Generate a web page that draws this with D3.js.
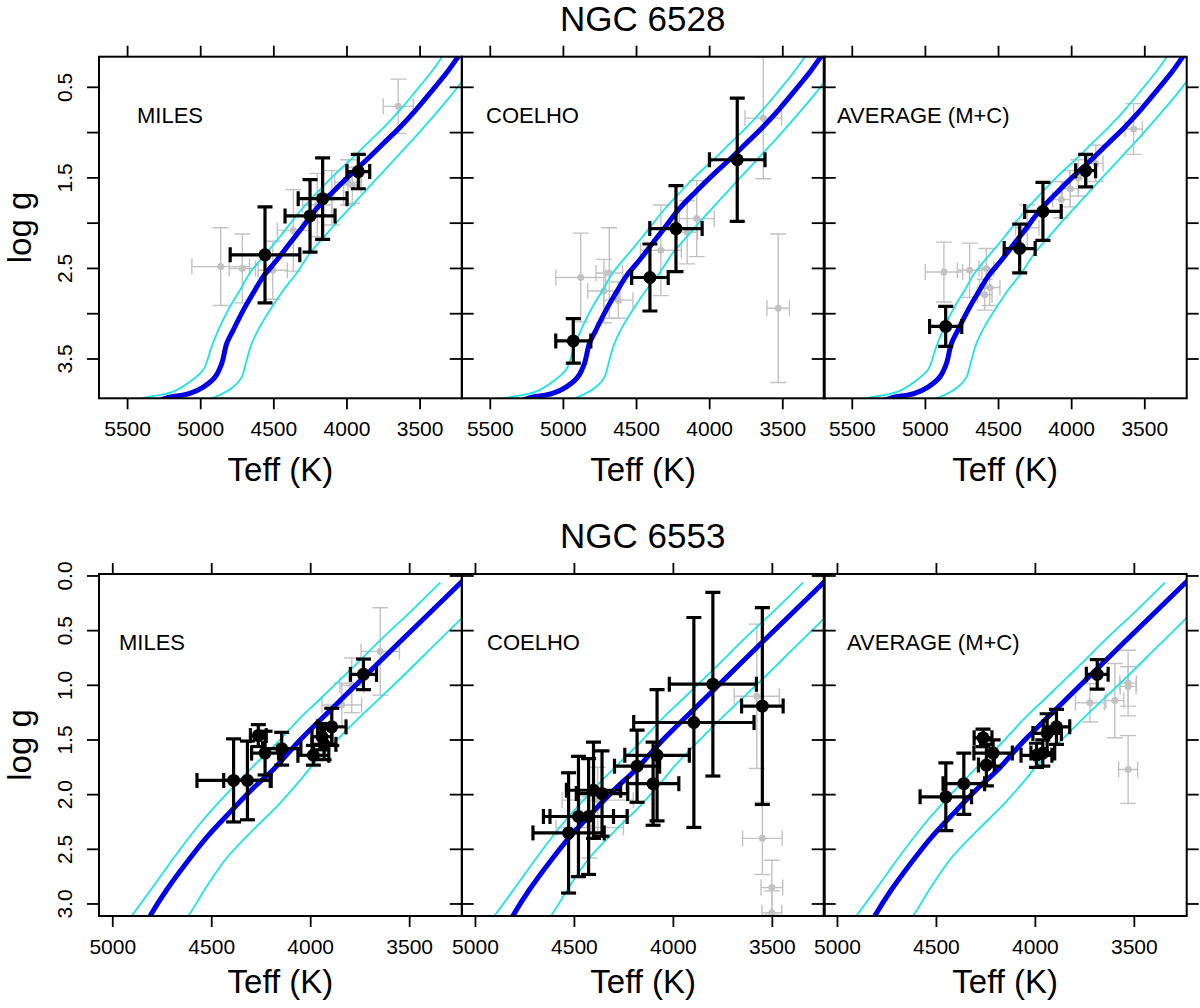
<!DOCTYPE html>
<html>
<head>
<meta charset="utf-8">
<script src="https://cdn.jsdelivr.net/npm/d3@7"></script>
<style>
body { margin: 0; background: #fff; }
svg { display: block; }
text { font-family: "Liberation Sans", Arial, Helvetica, sans-serif; fill: #000; }
</style>
</head>
<body>
<svg id="chart" width="1200" height="1008"></svg>
<script>
// cluster titles and panel names
var clusters = ["NGC 6528", "NGC 6553"];
var libraries = ["MILES", "COELHO", "AVERAGE (M+C)"];

// axis ranges and ticks
var teffRange6528 = [5692, 3210], loggRange6528 = [0.162, 3.934];
var teffRange6553 = [5067, 3233], loggRange6553 = [-0.018, 3.11];
var teffTicks6528 = [5500, 5000, 4500, 4000, 3500];
var loggTicks6528 = [0.5, 1, 1.5, 2, 2.5, 3, 3.5];
var loggLabels6528 = [0.5, 1.5, 2.5, 3.5];
var teffTicks6553 = [5000, 4500, 4000, 3500];
var loggTicks6553 = [0, 0.5, 1, 1.5, 2, 2.5, 3];
var loggLabels6553 = [0, 0.5, 1, 1.5, 2, 2.5, 3];

// isochrones [Teff, log g]: central, hot and cool envelopes
var iso6528 = [[5300,3.97],[5229,3.93],[5070,3.88],[4979,3.81],[4899,3.70],[4853,3.55],[4819,3.33],[4774,3.18],[4705,2.96],[4637,2.77],[4569,2.59],[4477,2.41],[4386,2.22],[4318,2.08],[4204,1.84],[4090,1.65],[3976,1.47],[3862,1.30],[3748,1.12],[3634,0.94],[3520,0.74],[3406,0.52],[3315,0.34],[3235,0.16],[3210,0.11]];
var iso6528Hot = [[5500,3.97],[5389,3.93],[5184,3.86],[5070,3.75],[4979,3.62],[4921,3.36],[4865,3.14],[4796,2.92],[4728,2.74],[4660,2.55],[4569,2.37],[4455,2.15],[4313,1.86],[4199,1.66],[4085,1.47],[3971,1.30],[3858,1.12],[3743,0.94],[3629,0.74],[3515,0.52],[3424,0.34],[3344,0.16]];
var iso6528Cool = [[5000,3.97],[4911,3.93],[4774,3.81],[4716,3.70],[4682,3.51],[4648,3.33],[4591,3.14],[4523,2.96],[4432,2.74],[4340,2.55],[4249,2.33],[4158,2.16],[4044,1.95],[3908,1.71],[3771,1.47],[3634,1.23],[3520,1.03],[3400,0.81],[3300,0.62],[3197,0.41]];
var iso6553 = [[4850,3.25],[4809,3.11],[4725,2.87],[4624,2.62],[4523,2.39],[4405,2.16],[4287,1.94],[4186,1.77],[4051,1.50],[3883,1.20],[3714,0.90],[3545,0.60],[3377,0.305],[3242,0.067],[3150,-0.10]];
var iso6553Hot = [[4960,3.25],[4902,3.11],[4793,2.84],[4674,2.54],[4540,2.23],[4405,1.96],[4287,1.74],[4169,1.53],[4051,1.30],[3967,1.155],[3798,0.86],[3630,0.56],[3495,0.33],[3343,0.06]];
var iso6553Cool = [[4680,3.25],[4616,3.11],[4523,2.84],[4422,2.58],[4287,2.32],[4169,2.11],[4051,1.87],[3992,1.74],[3832,1.44],[3714,1.23],[3545,0.94],[3377,0.64],[3242,0.40],[3180,0.29]];

// stars [Teff, log g, err Teff, err log g]
var miles6528 = [[4557,2.35,238,0.53],[4249,1.92,171,0.40],[4163,1.73,167,0.45],[3919,1.43,78,0.19]];
var coelho6528 = [[4929,3.30,120,0.245],[4405,2.60,125,0.37],[4227,2.06,179,0.475],[3808,1.30,190,0.68]];
var average6528 = [[4858,3.14,110,0.22],[4352,2.28,106,0.27],[4193,1.87,125,0.32],[3901,1.42,68,0.18]];
var milesGrey6528 = [[3646,0.71,103,0.30],[4860,2.48,197,0.43],[4712,2.50,90,0.38],[4504,2.52,100,0.32],[4363,2.08,110,0.45],[4200,1.80,100,0.35],[4100,1.72,80,0.30],[3990,1.55,90,0.25],[3960,1.58,60,0.20]];
var coelhoGrey6528 = [[3630,0.84,125,0.67],[3528,2.94,77,0.82],[4878,2.60,170,0.49],[4683,2.55,91,0.50],[4621,2.85,100,0.20],[4720,2.75,110,0.35],[4330,2.30,140,0.50],[4150,2.10,70,0.35],[4085,1.95,120,0.42]];
var averageGrey6528 = [[3573,0.96,60,0.28],[4870,2.54,128,0.33],[4694,2.52,84,0.30],[4580,2.50,50,0.22],[4557,2.71,70,0.20],[4591,2.79,50,0.17],[4300,2.05,80,0.25],[4067,1.74,60,0.20],[4006,1.62,55,0.20],[3950,1.50,60,0.20],[3832,1.34,50,0.20]];

var miles6553 = [[4387,1.87,185,0.38],[4317,1.87,120,0.36],[4262,1.46,40,0.10],[4228,1.62,68,0.20],[4144,1.58,97,0.15],[3984,1.64,78,0.09],[3941,1.47,50,0.12],[3930,1.54,60,0.14],[3891,1.38,72,0.17],[3731,0.90,66,0.14]];
var coelho6553 = [[4527,2.35,180,0.55],[4477,2.20,177,0.55],[4426,2.20,195,0.53],[4401,1.96,137,0.44],[4358,1.99,130,0.39],[4181,1.74,114,0.33],[4080,1.64,163,0.60],[4100,1.90,130,0.38],[3894,1.34,304,0.96],[3798,0.99,220,0.84],[3548,1.19,105,0.90]];
var average6553 = [[4450,2.02,130,0.31],[4359,1.90,105,0.28],[4262,1.48,45,0.08],[4211,1.62,97,0.12],[4245,1.73,40,0.19],[3992,1.64,78,0.11],[3960,1.62,60,0.12],[3938,1.44,72,0.18],[3891,1.38,67,0.16],[3685,0.90,55,0.135]];
var milesGrey6553 = [[3646,0.69,97,0.40],[3840,1.18,100,0.20],[3790,1.00,60,0.25]];
var coelhoGrey6553 = [[3548,2.40,100,0.33],[3500,2.85,55,0.25],[3500,3.08,50,0.20],[3576,1.10,114,0.66],[4420,2.30,170,0.28],[4380,2.05,180,0.30]];
var averageGrey6553 = [[3529,0.98,42,0.30],[3529,1.01,40,0.18],[3596,1.14,45,0.34],[3722,1.16,73,0.175],[3529,1.77,48,0.31]];

var rows = [
    { title: clusters[0], teff: teffRange6528, logg: loggRange6528, teffTicks: teffTicks6528,
      loggTicks: loggTicks6528, loggLabels: loggLabels6528, fmt: d3.format(".1f"),
      iso: [iso6528Hot, iso6528Cool, iso6528],
      stars: [miles6528, coelho6528, average6528], grey: [milesGrey6528, coelhoGrey6528, averageGrey6528],
      top: 56.7, bottom: 398.3, titleY: 31, xLabelY: 481, nameY: 123, nameX: [137, 486, 837] },
    { title: clusters[1], teff: teffRange6553, logg: loggRange6553, teffTicks: teffTicks6553,
      loggTicks: loggTicks6553, loggLabels: loggLabels6553, fmt: d3.format(".1f"),
      iso: [iso6553Hot, iso6553Cool, iso6553],
      stars: [miles6553, coelho6553, average6553], grey: [milesGrey6553, coelhoGrey6553, averageGrey6553],
      top: 574, bottom: 916, titleY: 548, xLabelY: 993, nameY: 650, nameX: [119, 487, 847] }
];

var colLeft = [99, 461.7, 823.7], panelW = 363;
var svg = d3.select("#chart");

function drawStars(g, stars, x, y, st) {
    var s = g.selectAll(null).data(stars).enter().append("g")
        .attr("stroke", st.color).attr("stroke-width", st.width).attr("fill", st.color);
    s.append("line")
        .attr("x1", function (d) { return x(d[0] + d[2]); }).attr("x2", function (d) { return x(d[0] - d[2]); })
        .attr("y1", function (d) { return y(d[1]); }).attr("y2", function (d) { return y(d[1]); });
    s.append("line")
        .attr("x1", function (d) { return x(d[0]); }).attr("x2", function (d) { return x(d[0]); })
        .attr("y1", function (d) { return y(d[1] - d[3]); }).attr("y2", function (d) { return y(d[1] + d[3]); });
    [-1, 1].forEach(function (sgn) {
        s.append("line")
            .attr("x1", function (d) { return x(d[0] + sgn * d[2]); }).attr("x2", function (d) { return x(d[0] + sgn * d[2]); })
            .attr("y1", function (d) { return y(d[1]) - st.cap; }).attr("y2", function (d) { return y(d[1]) + st.cap; });
        s.append("line")
            .attr("x1", function (d) { return x(d[0]) - st.cap; }).attr("x2", function (d) { return x(d[0]) + st.cap; })
            .attr("y1", function (d) { return y(d[1] + sgn * d[3]); }).attr("y2", function (d) { return y(d[1] + sgn * d[3]); });
    });
    s.append("circle")
        .attr("cx", function (d) { return x(d[0]); }).attr("cy", function (d) { return y(d[1]); })
        .attr("r", st.r).attr("stroke", "none");
}

rows.forEach(function (row, ri) {
    svg.append("text").attr("x", 642.7).attr("y", row.titleY)
        .attr("text-anchor", "middle").style("font-size", "35px").text(row.title);
    svg.append("text")
        .attr("transform", "translate(31," + ((row.top + row.bottom) / 2) + ") rotate(-90)")
        .attr("text-anchor", "middle").style("font-size", "33px").text("log g");

    libraries.forEach(function (name, ci) {
        var L = colLeft[ci], R = L + panelW;
        var x = d3.scaleLinear().domain(row.teff).range([L, R]);
        var y = d3.scaleLinear().domain(row.logg).range([row.top, row.bottom]);
        var g = svg.append("g");
        var clipId = "clip" + ri + ci;
        g.append("clipPath").attr("id", clipId).append("rect")
            .attr("x", L).attr("y", row.top).attr("width", panelW).attr("height", row.bottom - row.top);
        var plot = g.append("g").attr("clip-path", "url(#" + clipId + ")");

        drawStars(plot, row.grey[ci], x, y, { color: "#c2c2c2", width: 1.4, cap: 8, r: 3.5 });

        var line = d3.line().x(function (d) { return x(d[0]); }).y(function (d) { return y(d[1]); })
            .curve(d3.curveCatmullRom.alpha(0.5));
        plot.selectAll(null).data(row.iso).enter().append("path")
            .attr("d", line).attr("fill", "none")
            .attr("stroke", function (d, i) { return i < 2 ? "#1ee3e6" : "#0000e8"; })
            .attr("stroke-width", function (d, i) { return i < 2 ? 1.8 : 5; });

        drawStars(plot, row.stars[ci], x, y, { color: "#000", width: 3.2, cap: 7.5, r: 6.5 });

        // frame
        g.append("rect").attr("x", L).attr("y", row.top).attr("width", panelW)
            .attr("height", row.bottom - row.top).attr("fill", "none")
            .attr("stroke", "#000").attr("stroke-width", 2);

        var top = g.append("g").attr("transform", "translate(0," + row.top + ")")
            .call(d3.axisTop(x).tickValues(row.teffTicks).tickSize(11).tickFormat(""));
        var bot = g.append("g").attr("transform", "translate(0," + row.bottom + ")")
            .call(d3.axisBottom(x).tickValues(row.teffTicks).tickSize(11).tickPadding(12).tickFormat(d3.format("d")));
        [top, bot].forEach(function (a) {
            a.select(".domain").remove();
            a.selectAll(".tick line").attr("stroke", "#000").attr("stroke-width", 1.8);
        });
        bot.selectAll("text").style("font-size", "21px").attr("font-family", null).attr("fill", "#000");

        // y ticks: outward on the first panel, crossing the shared borders, outward at the far right
        var yt = g.append("g");
        yt.selectAll(null).data(row.loggTicks).enter().append("line")
            .attr("x1", L - 12).attr("x2", ci === 0 ? L : L + 12)
            .attr("y1", function (d) { return y(d); }).attr("y2", function (d) { return y(d); })
            .attr("stroke", "#000").attr("stroke-width", 1.8);
        if (ci === 2) {
            yt.selectAll(null).data(row.loggTicks).enter().append("line")
                .attr("x1", R).attr("x2", R + 12)
                .attr("y1", function (d) { return y(d); }).attr("y2", function (d) { return y(d); })
                .attr("stroke", "#000").attr("stroke-width", 1.8);
        }
        if (ci === 0) {
            yt.selectAll(null).data(row.loggLabels).enter().append("text")
                .attr("transform", function (d) { return "translate(72," + y(d) + ") rotate(-90)"; })
                .attr("text-anchor", "middle").style("font-size", "21px").text(row.fmt);
        }

        g.append("text").attr("x", row.nameX[ci]).attr("y", row.nameY)
            .style("font-size", "22px").text(name);
        g.append("text").attr("x", (L + R) / 2).attr("y", row.xLabelY)
            .attr("text-anchor", "middle").style("font-size", "33px").text("Teff (K)");
    });
});
</script>
</body>
</html>
